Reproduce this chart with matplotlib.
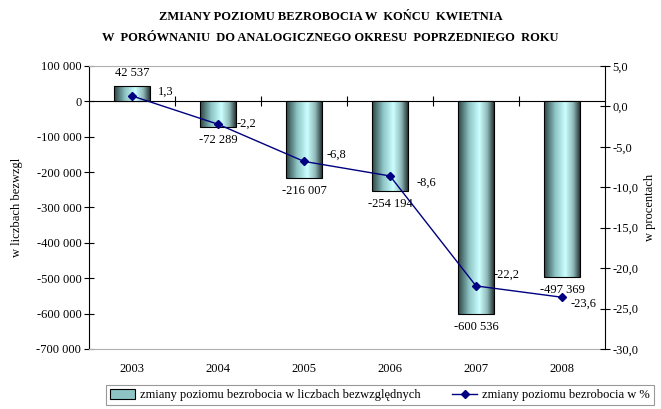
import numpy as np
import matplotlib
matplotlib.use("Agg")
import matplotlib.pyplot as plt
from matplotlib.colors import LinearSegmentedColormap
from matplotlib.patches import Patch
from matplotlib.lines import Line2D

plt.rcParams['font.family'] = ['Liberation Serif', 'DejaVu Serif']

years = ['2003', '2004', '2005', '2006', '2007', '2008']
abs_change = [42537, -72289, -216007, -254194, -600536, -497369]
pct_change = [1.3, -2.2, -6.8, -8.6, -22.2, -23.6]

# offsets (px) of the percent labels, as placed in the original
pct_offsets = [(34, 4), (28, 0), (32, 7), (36, -7), (31, 11), (22, -6)]

title = ('ZMIANY POZIOMU BEZROBOCIA W  KOŃCU  KWIETNIA\n'
         'W  PORÓWNANIU  DO ANALOGICZNEGO OKRESU  POPRZEDNIEGO  ROKU')
bar_label = 'zmiany poziomu bezrobocia w liczbach bezwzględnych'
line_label = 'zmiany poziomu bezrobocia w %'


def fmt_int(v):
    return f'{v:,.0f}'.replace(',', ' ')


def fmt_pct(v):
    return f'{v:.1f}'.replace('.', ',')


fig = plt.figure(figsize=(6.61, 4.09), dpi=100)
ax = fig.add_axes([89 / 661, 1 - 349 / 409, (605 - 89) / 661, (349 - 66) / 409])

x = np.arange(len(years))
bars = ax.bar(x, abs_change, width=0.42, facecolor='none', edgecolor='black',
              linewidth=0.8, zorder=3)

cmap = LinearSegmentedColormap.from_list(
    'cyl', [(0.0, '#2e4545'), (0.3, '#8ec4c4'), (0.58, '#ccffff'),
            (0.8, '#8fb8b8'), (1.0, '#1a2626')])
grad = np.linspace(0, 1, 64).reshape(1, -1)
for b in bars:
    bx, by = b.get_x(), b.get_y()
    bw, bh = b.get_width(), b.get_height()
    im = ax.imshow(grad, cmap=cmap, aspect='auto', zorder=2,
                   extent=[bx, bx + bw, by, by + bh])
    im.set_clip_path(b)

ax.set_xlim(-0.5, len(years) - 0.5)
ax.set_ylim(-700000, 100000)
ax.set_yticks(np.arange(-700000, 100001, 100000))
ax.set_yticklabels([fmt_int(v) for v in ax.get_yticks()], fontsize=9)
ax.tick_params(axis='y', direction='inout', length=7, width=0.8, pad=2)
ax.set_xticks(x)
ax.set_xticklabels(years, fontsize=9)
ax.tick_params(axis='x', length=0, pad=10)

ax.spines['top'].set_color('#b0b0b0')
ax.spines['bottom'].set_color('#b0b0b0')
ax.spines['right'].set_visible(False)
ax.spines['left'].set_linewidth(0.8)

# axis line at zero with category separators
y0 = (0 - (-700000)) / 800000
sec = ax.secondary_xaxis(y0)
sec.set_xticks(x[:-1] + 0.5)
sec.set_xticklabels([])
sec.tick_params(direction='inout', length=7, width=0.8)
sec.spines['bottom'].set_linewidth(0.8)
sec.spines['top'].set_linewidth(0.8)

ax.bar_label(bars, labels=[fmt_int(v) for v in abs_change], padding=5, fontsize=9)
ax.set_ylabel('w liczbach bezwzgl', fontsize=9, labelpad=10)

ax2 = ax.twinx()
ax2.plot(x, pct_change, color='#000080', linewidth=1.0, marker='D',
         markersize=4.5, zorder=5)
ax2.set_ylim(-30, 5)
ax2.set_yticks(np.arange(-30, 5.1, 5))
ax2.set_yticklabels([fmt_pct(v) for v in ax2.get_yticks()], fontsize=9)
ax2.tick_params(axis='y', direction='inout', length=7, width=0.8, pad=2)
for s in ['top', 'bottom', 'left']:
    ax2.spines[s].set_visible(False)
ax2.spines['right'].set_linewidth(0.8)
ax2.set_ylabel('w procentach', fontsize=9, labelpad=4)

for xi, v, (dx, dy) in zip(x, pct_change, pct_offsets):
    ax2.annotate(fmt_pct(v), (xi, v), xytext=(dx, dy), textcoords='offset pixels',
                 ha='center', va='center', fontsize=9)

fig.text(0.5, 1 - 27.5 / 409, title, ha='center', va='center', fontsize=9,
         fontweight='bold', linespacing=1.9)

handles = [Patch(facecolor='#8ec4c4', edgecolor='black', linewidth=0.8),
           Line2D([], [], color='#000080', linewidth=1.0, marker='D', markersize=4)]
leg = fig.legend(handles, [bar_label, line_label], ncol=2, fontsize=9,
                 loc='center', bbox_to_anchor=(380 / 661, 1 - 395 / 409),
                 frameon=True, fancybox=False, edgecolor='#808080',
                 handlelength=2.0, handleheight=0.8, handletextpad=0.4,
                 columnspacing=2.5, borderpad=0.3)
leg.get_frame().set_linewidth(0.8)

fig.savefig('out.png', dpi=100)
